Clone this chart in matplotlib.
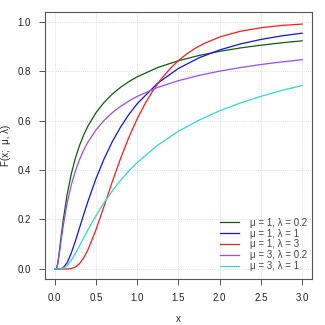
import matplotlib
matplotlib.use('Agg')
import matplotlib.pyplot as plt

# x grid and CDF values
x = [0, 0.02, 0.035, 0.05, 0.075, 0.1, 0.15, 0.2, 0.25, 0.3, 0.35, 0.4, 0.5, 0.6,
     0.7, 0.8, 0.9, 1.0, 1.25, 1.5, 1.75, 2.0, 2.25, 2.5, 2.75, 3.0]

f_m1_l02 = [0, 0.0019, 0.0205, 0.0553, 0.1246, 0.191, 0.3006, 0.3836, 0.4478, 0.4989,
            0.5409, 0.576, 0.6316, 0.674, 0.7075, 0.7348, 0.7575, 0.7768, 0.8144,
            0.8418, 0.8631, 0.8798, 0.8934, 0.9046, 0.9142, 0.9223]
f_m1_l1 = [0, 0, 0, 0, 0.0007, 0.0041, 0.0251, 0.0638, 0.1127, 0.1657, 0.219, 0.2706,
           0.365, 0.4464, 0.5158, 0.5747, 0.625, 0.6681, 0.7517, 0.8107, 0.8536,
           0.8854, 0.9095, 0.9278, 0.9421, 0.9532]
f_m3_l02 = [0, 0.0017, 0.018, 0.0486, 0.1095, 0.168, 0.2651, 0.3388, 0.3961, 0.4421,
            0.4799, 0.5116, 0.5623, 0.6011, 0.6323, 0.6577, 0.6792, 0.6976, 0.734,
            0.7612, 0.7824, 0.7998, 0.8141, 0.8264, 0.8368, 0.846]
f_m3_l1 = [0, 0, 0, 0, 0.0004, 0.0022, 0.0136, 0.0351, 0.0629, 0.0936, 0.1253, 0.1566,
           0.2157, 0.2691, 0.3166, 0.3588, 0.3964, 0.4301, 0.5007, 0.5565, 0.6017,
           0.6392, 0.6708, 0.6978, 0.7212, 0.7417]

# the mu=1, lambda=3 curve bends harder, so it gets its own finer grid
x_red = [0, 0.1, 0.15, 0.2, 0.25, 0.3, 0.35, 0.4, 0.5, 0.6, 0.7, 0.8, 0.9, 1.0,
         1.1, 1.2, 1.3, 1.4, 1.5, 1.6, 1.7, 1.8, 2.0, 2.25, 2.5, 2.75, 3.0]
f_m1_l3 = [0, 0, 0.0001, 0.0017, 0.0077, 0.0214, 0.0441, 0.0756, 0.1585, 0.2554,
           0.3546, 0.4483, 0.5329, 0.6073, 0.6713, 0.7258, 0.7717, 0.8101, 0.8423,
           0.869, 0.8914, 0.9097, 0.9378, 0.9608, 0.9752, 0.9843, 0.99]

xs = [x, x, x_red, x, x]
series = [f_m1_l02, f_m1_l1, f_m1_l3, f_m3_l02, f_m3_l1]
labels = ['μ = 1, λ = 0.2', 'μ = 1, λ = 1', 'μ = 1, λ = 3',
          'μ = 3, λ = 0.2', 'μ = 3, λ = 1']
colors = ['#0b5e0b', '#1010ff', '#ff1a1a', '#9a4cf0', '#2fd8cf']

xticks = [0.0, 0.5, 1.0, 1.5, 2.0, 2.5, 3.0]
yticks = [0.0, 0.2, 0.4, 0.6, 0.8, 1.0]

plt.rcParams['font.family'] = ['Liberation Sans', 'DejaVu Sans']
plt.rcParams['font.size'] = 7

fig = plt.figure(figsize=(3.25, 3.25), dpi=100)
ax = fig.add_axes([0.138, 0.142, 0.822, 0.822])

for xt in xticks:
    ax.axvline(xt, color='#d4d4d4', lw=0.6, ls=(0, (1, 1.5)), zorder=0)
for yt in yticks:
    ax.axhline(yt, color='#d4d4d4', lw=0.6, ls=(0, (1, 1.5)), zorder=0)

for xv, ys, lab, c in zip(xs, series, labels, colors):
    ax.plot(xv, ys, color=c, lw=0.9, label=lab)

ax.set_xlim(-0.12, 3.12)
ax.set_ylim(-0.04, 1.04)
ax.set_xticks(xticks)
ax.set_xticklabels(['%.1f' % v for v in xticks])
ax.set_yticks(yticks)
ax.set_yticklabels(['%.1f' % v for v in yticks])
ax.tick_params(direction='out', length=4, width=0.7, color='#555555',
               labelcolor='#222222', pad=6)
for sp in ax.spines.values():
    sp.set_color('#555555')
    sp.set_linewidth(0.8)

ax.set_xlabel('x', labelpad=8, color='#222222')
ax.set_ylabel('F(x;  μ, λ)', labelpad=5, color='#222222')

ax.legend(loc='lower right', frameon=False, handlelength=1.9, handletextpad=1.1,
          labelspacing=0.08, borderaxespad=0.0, bbox_to_anchor=(0.995, 0.015),
          labelcolor='#444444')

fig.savefig('out.png', dpi=100)
